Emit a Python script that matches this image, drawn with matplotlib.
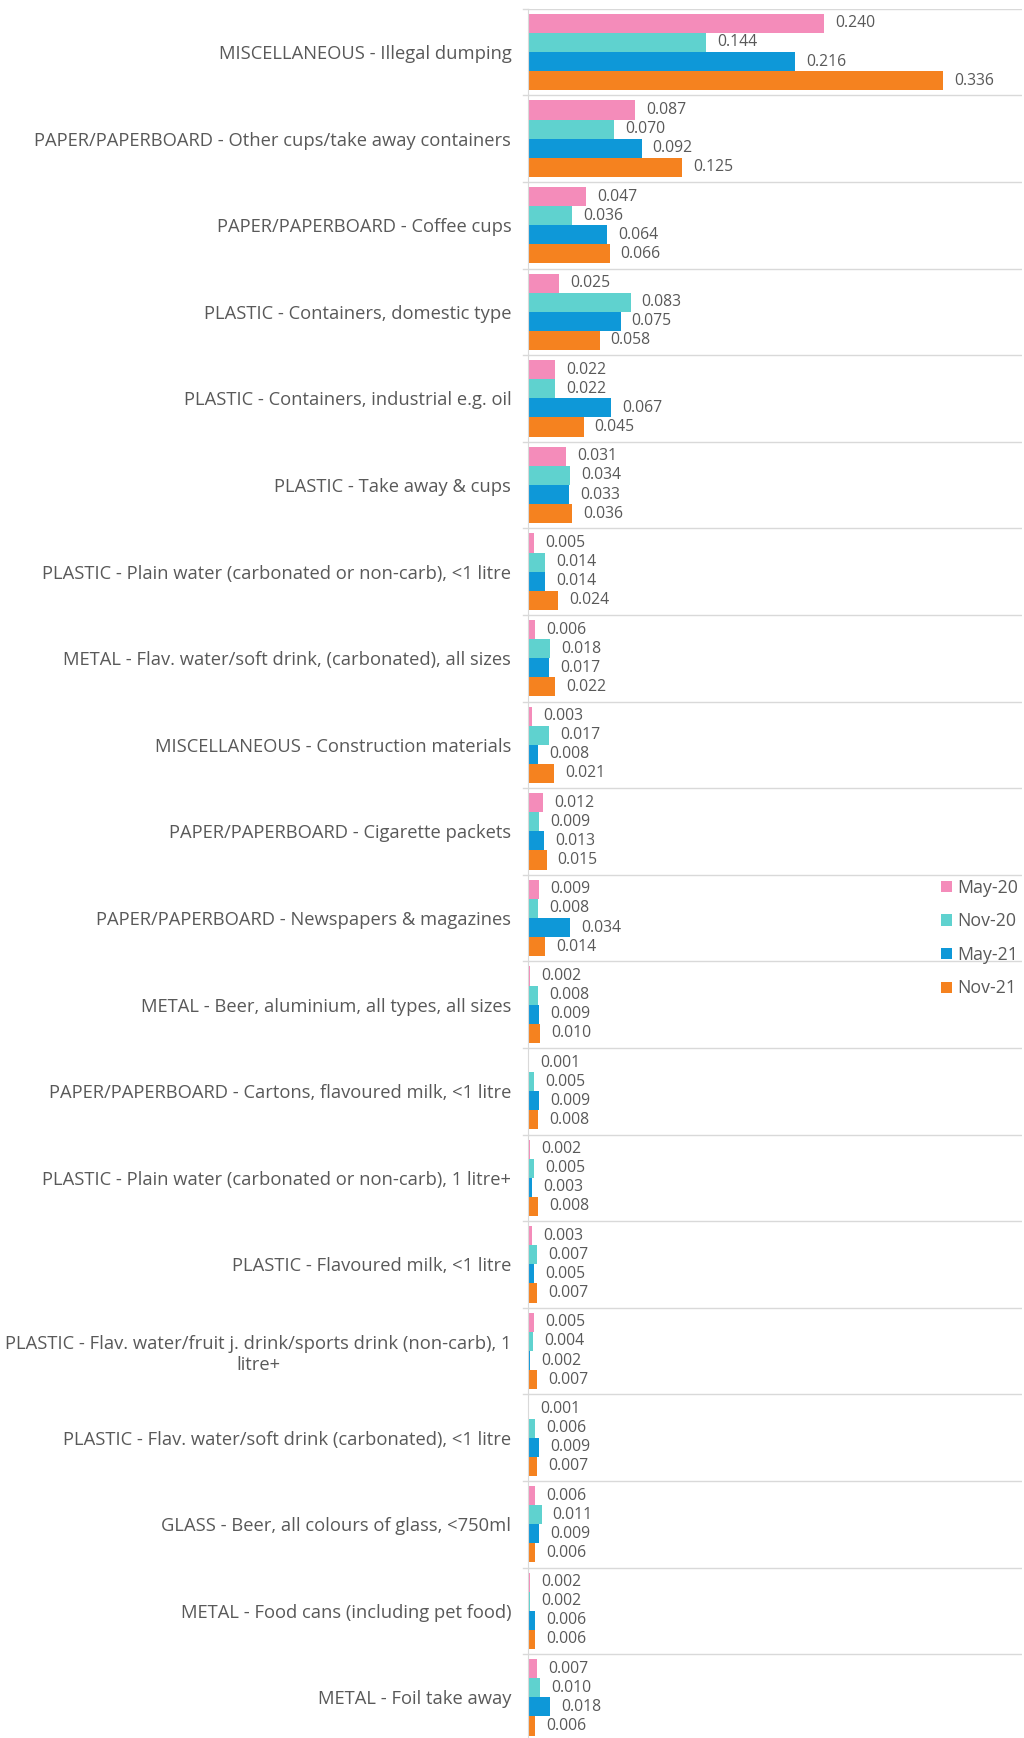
import numpy as np
import matplotlib
matplotlib.use("Agg")
import matplotlib.pyplot as plt

# Kategorien (von oben nach unten)
categories = [
    "MISCELLANEOUS - Illegal dumping",
    "PAPER/PAPERBOARD - Other cups/take away containers",
    "PAPER/PAPERBOARD - Coffee cups",
    "PLASTIC - Containers, domestic type",
    "PLASTIC - Containers, industrial e.g. oil",
    "PLASTIC - Take away & cups",
    "PLASTIC - Plain water (carbonated or non-carb), <1 litre",
    "METAL - Flav. water/soft drink, (carbonated), all sizes",
    "MISCELLANEOUS - Construction materials",
    "PAPER/PAPERBOARD - Cigarette packets",
    "PAPER/PAPERBOARD - Newspapers & magazines",
    "METAL - Beer, aluminium, all types, all sizes",
    "PAPER/PAPERBOARD - Cartons, flavoured milk, <1 litre",
    "PLASTIC - Plain water (carbonated or non-carb), 1 litre+",
    "PLASTIC - Flavoured milk, <1 litre",
    "PLASTIC - Flav. water/fruit j. drink/sports drink (non-carb), 1\nlitre+",
    "PLASTIC - Flav. water/soft drink (carbonated), <1 litre",
    "GLASS - Beer, all colours of glass, <750ml",
    "METAL - Food cans (including pet food)",
    "METAL - Foil take away",
]

series_names = ["May-20", "Nov-20", "May-21", "Nov-21"]

may20 = [0.240, 0.087, 0.047, 0.025, 0.022, 0.031, 0.005, 0.006, 0.003, 0.012,
         0.009, 0.002, 0.001, 0.002, 0.003, 0.005, 0.001, 0.006, 0.002, 0.007]
nov20 = [0.144, 0.070, 0.036, 0.083, 0.022, 0.034, 0.014, 0.018, 0.017, 0.009,
         0.008, 0.008, 0.005, 0.005, 0.007, 0.004, 0.006, 0.011, 0.002, 0.010]
may21 = [0.216, 0.092, 0.064, 0.075, 0.067, 0.033, 0.014, 0.017, 0.008, 0.013,
         0.034, 0.009, 0.009, 0.003, 0.005, 0.002, 0.009, 0.009, 0.006, 0.018]
nov21 = [0.336, 0.125, 0.066, 0.058, 0.045, 0.036, 0.024, 0.022, 0.021, 0.015,
         0.014, 0.010, 0.008, 0.008, 0.007, 0.007, 0.007, 0.006, 0.006, 0.006]

colors = ["#F48CBA", "#5FD2CF", "#0E98D8", "#F5821F"]
grey = "#595959"
grid_col = "#D9D9D9"

plt.rcParams["font.family"] = ["Open Sans", "DejaVu Sans"]

fig = plt.figure(figsize=(10.24, 17.38), dpi=100)
# Achse: links x=528px, oben y=8.7px, Kategorie-Hoehe 86.6px
ax = fig.add_axes([528 / 1024, (1738 - 8.7 - 20 * 86.6) / 1738,
                   (1022 - 528) / 1024, 20 * 86.6 / 1738])

n = len(categories)
y = np.arange(n)
h = 0.22
all_series = [may20, nov20, may21, nov21]
for j, (vals, name, col) in enumerate(zip(all_series, series_names, colors)):
    pos = y + (j - 1.5) * h
    ax.barh(pos, vals, height=h, color=col, label=name, zorder=2)
    for p, v in zip(pos, vals):
        ax.annotate(f"{v:.3f}", (v, p), xytext=(8, 0), textcoords="offset points",
                    va="center", ha="left", fontsize=11.3, color=grey)

ax.set_ylim(n - 0.5, -0.5)
ax.set_xlim(0, 0.4)

# Trennlinien zwischen Kategorien
for b in np.arange(-0.5, n, 1.0):
    ax.axhline(b, color=grid_col, lw=1, zorder=1)
    ax.plot([-0.004, 0], [b, b], color=grid_col, lw=1, clip_on=False)

ax.set_yticks(y)
ax.set_yticklabels(categories, fontsize=13.2, color=grey, multialignment="center")
ax.tick_params(axis="y", length=0, pad=12)
ax.set_xticks([])
for s in ["top", "right", "bottom"]:
    ax.spines[s].set_visible(False)
ax.spines["left"].set_color(grid_col)

fig.legend(loc="center left", bbox_to_anchor=(932 / 1024, (1738 - 938) / 1738),
           frameon=False, fontsize=12.8, labelcolor=grey, handlelength=0.6,
           handleheight=0.6, handletextpad=0.3, labelspacing=0.88, borderpad=0)

fig.savefig("out.png", dpi=100)
